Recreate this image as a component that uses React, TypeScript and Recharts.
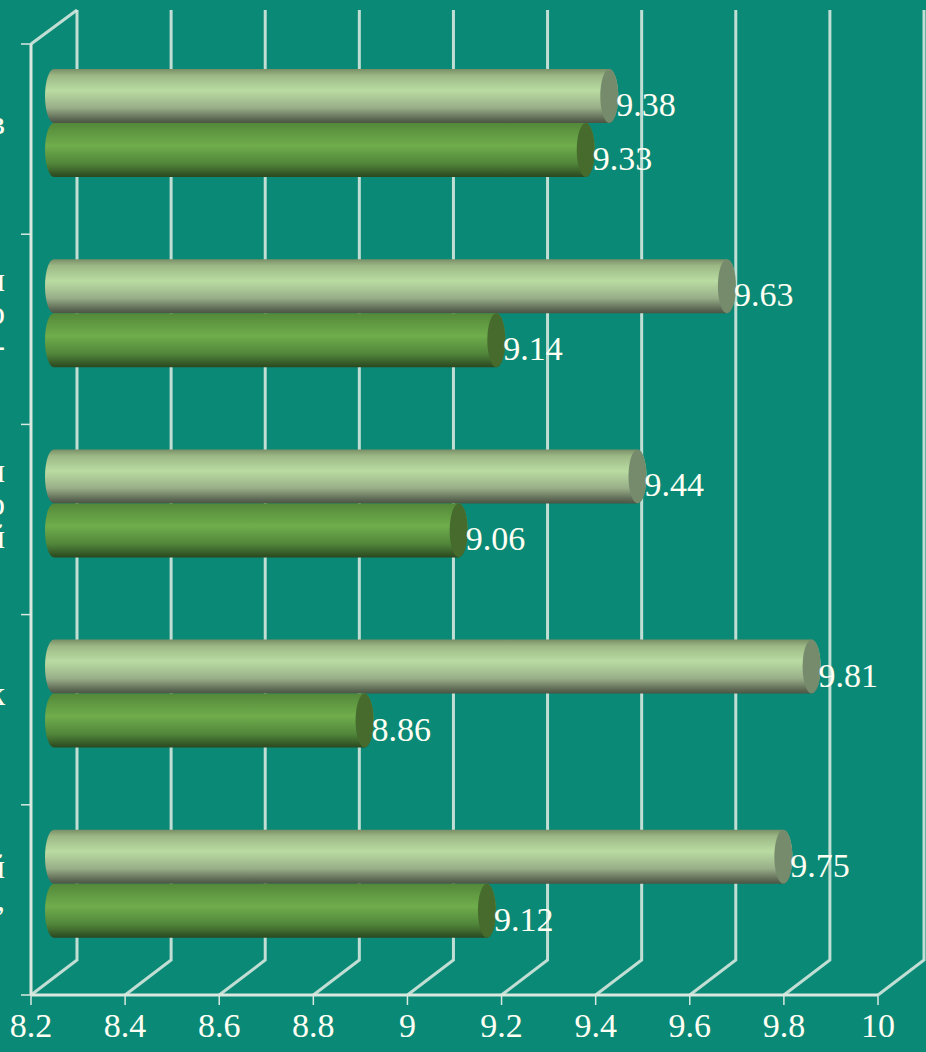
import React from 'react'
import { BarChart, Bar, CartesianGrid, XAxis, YAxis } from 'recharts'

// the category names run off the left edge of the picture, only line endings show
const categories = ['в', 'и\nо\n-', 'и\nо\nй', 'к', 'й\n,']
const lightValues = [9.38, 9.63, 9.44, 9.81, 9.75]
const darkValues = [9.33, 9.14, 9.06, 8.86, 9.12]
const xTicks = [8.2, 8.4, 8.6, 8.8, 9, 9.2, 9.4, 9.6, 9.8, 10]

const data = categories.map((name, i) => ({
  name,
  light: lightValues[i],
  dark: darkValues[i],
}))

const BG = '#0a8976'
const LINE = '#d9e9e0'
const INK = '#fffff4'
const FONT = '"Liberation Serif", serif'

// fake 3d: the wall is pushed back by this much, bars sit half way
const WALL_DX = 46
const WALL_DY = 35
const BAR_DX = 23
const BAR_DY = 16
const CAP_RX = 9

const plotLeft = 31

function WallLine(props: any) {
  const { x1, y1, y2 } = props
  const bx = x1 + WALL_DX
  return (
    <g fill="none" stroke={LINE} strokeWidth={3} strokeOpacity={0.88}>
      <polyline points={`${x1},${y2} ${bx},${y2 - WALL_DY} ${bx},${y1 - 34}`} />
      {Math.abs(x1 - plotLeft) < 1 && (
        <line x1={x1} y1={y1} x2={bx} y2={y1 - 34} />
      )}
    </g>
  )
}

function Cylinder(props: any) {
  const { x, y, width, height, gradient, capFill } = props
  const x0 = x + BAR_DX
  const x1 = x0 + width
  const top = y - BAR_DY
  const bot = top + height
  const ry = height / 2
  const body = `M${x0},${top} L${x1},${top} A${CAP_RX},${ry} 0 0 1 ${x1},${bot} L${x0},${bot} A${CAP_RX},${ry} 0 0 1 ${x0},${top} Z`
  return (
    <g>
      <path d={body} fill={`url(#${gradient})`} />
      <ellipse cx={x1} cy={top + ry} rx={CAP_RX} ry={ry} fill={capFill} />
    </g>
  )
}

function ValueLabel(props: any) {
  const { x, y, width, height, value } = props
  return (
    <text
      x={x + width + BAR_DX + 7}
      y={y - BAR_DY + height / 2 + 20}
      fontSize={34}
      fontFamily={FONT}
      fill={INK}
    >
      {value}
    </text>
  )
}

function CategoryTick(props: any) {
  const { y, payload, index } = props
  const lines: string[] = String(payload.value).split('\n')
  const half = 95.1
  return (
    <g>
      <line x1={plotLeft - 10} x2={plotLeft} y1={y - half} y2={y - half} stroke={LINE} strokeWidth={1.5} />
      {index === categories.length - 1 && (
        <line x1={plotLeft - 10} x2={plotLeft} y1={y + half} y2={y + half} stroke={LINE} strokeWidth={1.5} />
      )}
      {lines.map((t, i) => (
        <text
          key={i}
          x={5}
          y={y - 5 + (i - (lines.length - 1) / 2) * 33}
          textAnchor="end"
          fontSize={34}
          fontFamily={FONT}
          fill={INK}
        >
          {t}
        </text>
      ))}
    </g>
  )
}

export default function App() {
  return (
    <div style={{ position: 'absolute', left: 0, top: 0, width: 926, height: 1052, background: BG, overflow: 'hidden' }}>
      <BarChart
        width={926}
        height={1052}
        layout="vertical"
        data={data}
        margin={{ top: 44, right: 48, bottom: 0, left: 0 }}
        barSize={54}
        barGap={0}
      >
        <defs>
          <linearGradient id="lightBar" x1="0" y1="0" x2="0" y2="1">
            <stop offset="0" stopColor="#7a8e66" />
            <stop offset="0.12" stopColor="#9cb885" />
            <stop offset="0.4" stopColor="#b9dca2" />
            <stop offset="0.72" stopColor="#98ae88" />
            <stop offset="0.93" stopColor="#5c6753" />
            <stop offset="1" stopColor="#4a5544" />
          </linearGradient>
          <linearGradient id="darkBar" x1="0" y1="0" x2="0" y2="1">
            <stop offset="0" stopColor="#538839" />
            <stop offset="0.42" stopColor="#6fad4c" />
            <stop offset="0.75" stopColor="#51863a" />
            <stop offset="1" stopColor="#2b4720" />
          </linearGradient>
        </defs>
        <CartesianGrid horizontal={false} vertical={(p: any) => <WallLine key={p.key} {...p} />} />
        <XAxis
          type="number"
          domain={[8.2, 10]}
          ticks={xTicks}
          interval={0}
          height={57}
          allowDataOverflow
          axisLine={{ stroke: LINE, strokeWidth: 3 }}
          tickLine={{ stroke: LINE, strokeWidth: 1.5 }}
          tickSize={10}
          tickMargin={8}
          tick={{ fontSize: 34, fontFamily: FONT, fill: INK }}
        />
        <YAxis
          type="category"
          dataKey="name"
          width={31}
          interval={0}
          axisLine={{ stroke: LINE, strokeWidth: 3 }}
          tickLine={false}
          tick={(p: any) => <CategoryTick {...p} />}
        />
        <Bar
          dataKey="light"
          isAnimationActive={false}
          shape={(p: any) => <Cylinder {...p} gradient="lightBar" capFill="#758b6c" />}
          label={(p: any) => <ValueLabel {...p} />}
        />
        <Bar
          dataKey="dark"
          isAnimationActive={false}
          shape={(p: any) => <Cylinder {...p} gradient="darkBar" capFill="#466b2d" />}
          label={(p: any) => <ValueLabel {...p} />}
        />
      </BarChart>
    </div>
  )
}
